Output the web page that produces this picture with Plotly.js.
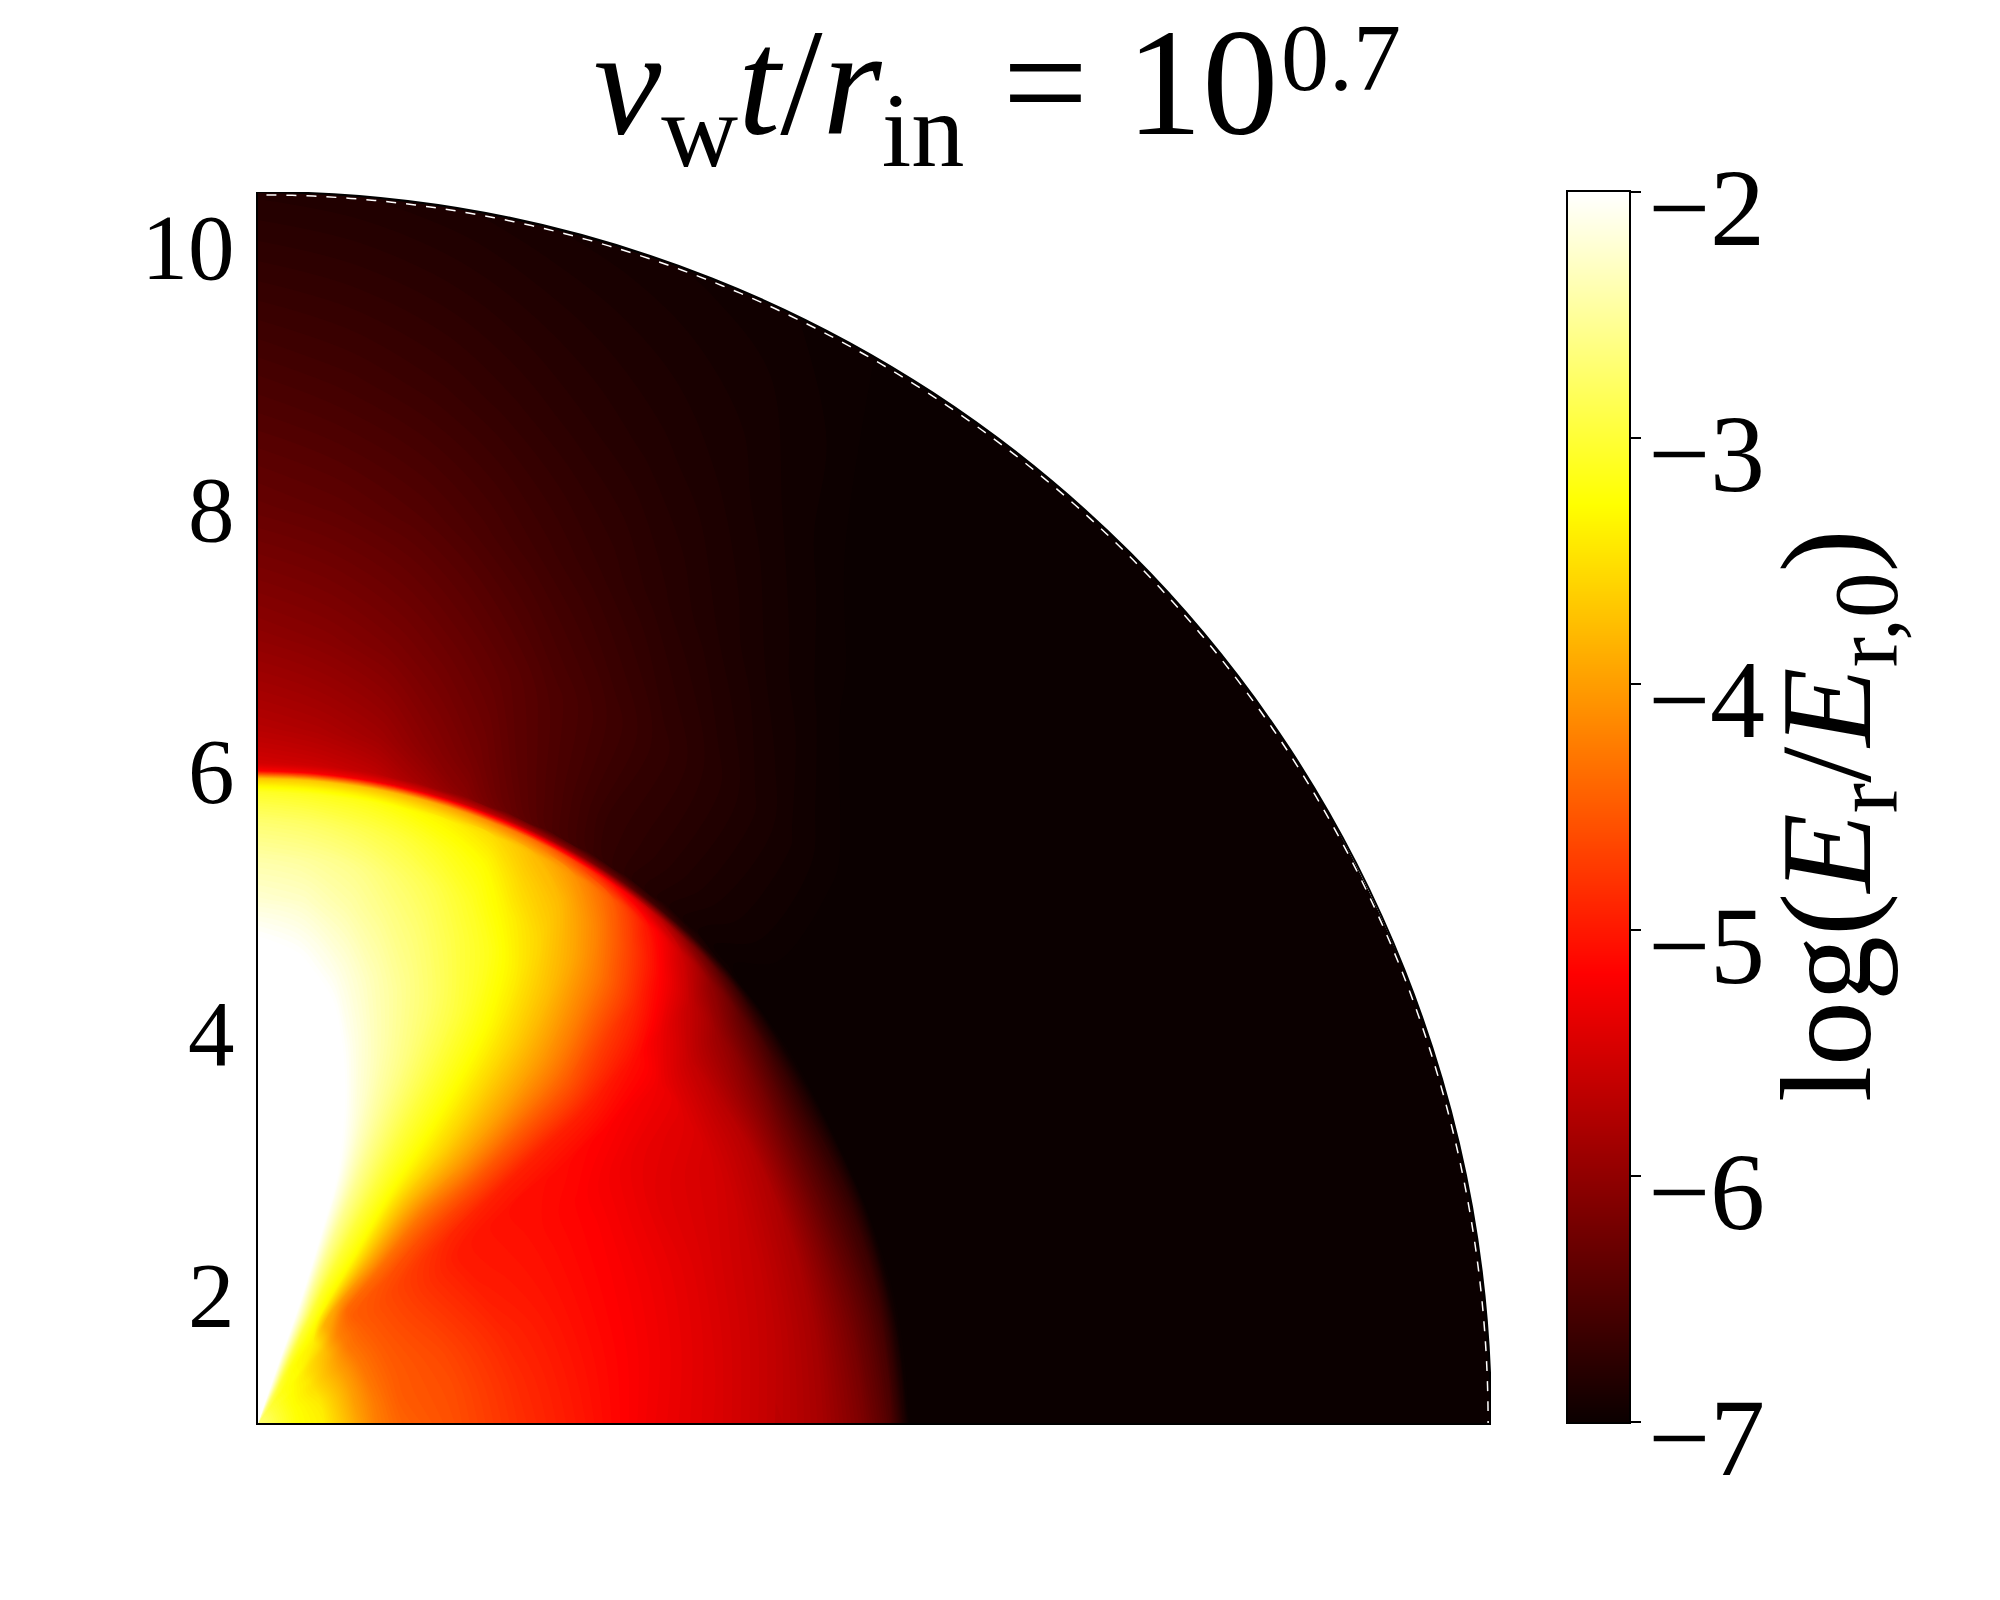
<!DOCTYPE html>
<html><head><meta charset="utf-8">
<script src="https://cdn.plot.ly/plotly-3.0.1.min.js"></script>
<style>html,body{margin:0;padding:0;background:#fff}</style></head>
<body><div id="chart" style="width:2000px;height:1600px"></div>
<script>
// polar angle measured from the vertical axis (degrees)
const thetaDeg = [0,5,10,14,18,22,26,30,34,38,42,46,50,55,60,70,80,90];
// radius nodes
const radius = [1,1.15,1.3,1.5,1.75,1.9,2.1,2.5,3,3.5,4,4.5,5,5.3,5.6,5.82,5.92,5.98,6.04,6.3,7,8,9,10.4];
// log(E_r/E_r,0); one row per radius, one column per angle
const logEr = [
[-1.8,-1.8,-1.8,-1.8,-2.0,-2.2,-2.4,-2.5,-2.6,-2.7,-2.7,-2.7,-2.7,-2.7,-2.7,-2.7,-2.7,-2.7],
[-1.7,-1.7,-1.7,-1.8,-2.0,-2.3,-2.6,-2.8,-2.9,-3.0,-3.0,-3.0,-3.0,-3.0,-3.0,-3.0,-3.0,-3.0],
[-1.6,-1.6,-1.6,-1.7,-1.95,-2.3,-2.7,-3.0,-3.1,-3.2,-3.2,-3.2,-3.25,-3.25,-3.27,-3.27,-3.27,-3.27],
[-1.5,-1.5,-1.5,-1.6,-1.9,-2.4,-2.9,-3.2,-3.3,-3.3,-3.4,-3.45,-3.45,-3.5,-3.5,-3.45,-3.42,-3.4],
[-1.5,-1.5,-1.5,-1.5,-1.85,-2.4,-3.0,-3.25,-3.4,-3.55,-3.75,-3.85,-3.95,-4.0,-4.0,-4.0,-4.0,-3.95],
[-1.5,-1.5,-1.5,-1.6,-1.85,-2.4,-3.0,-3.3,-3.85,-4.0,-4.2,-4.25,-4.3,-4.3,-4.3,-4.3,-4.27,-4.25],
[-1.5,-1.5,-1.5,-1.6,-1.85,-2.5,-3.05,-3.35,-4.0,-4.4,-4.5,-4.5,-4.5,-4.5,-4.5,-4.5,-4.5,-4.45],
[-1.5,-1.5,-1.5,-1.6,-1.95,-2.55,-3.0,-3.3,-3.85,-4.35,-4.6,-4.7,-4.72,-4.72,-4.7,-4.65,-4.62,-4.6],
[-1.5,-1.5,-1.5,-1.7,-2.05,-2.55,-2.95,-3.3,-3.8,-4.3,-4.65,-4.9,-5.0,-5.0,-4.98,-4.92,-4.88,-4.85],
[-1.5,-1.5,-1.6,-1.9,-2.25,-2.6,-2.95,-3.25,-3.6,-4.05,-4.55,-4.95,-5.08,-5.08,-5.08,-5.08,-5.07,-5.05],
[-1.7,-1.7,-1.85,-2.15,-2.4,-2.65,-2.95,-3.25,-3.6,-4.0,-4.5,-4.95,-5.12,-5.18,-5.2,-5.23,-5.25,-5.28],
[-1.85,-1.95,-2.15,-2.35,-2.55,-2.75,-3.0,-3.3,-3.65,-4.05,-4.5,-4.95,-5.2,-5.33,-5.38,-5.4,-5.43,-5.45],
[-2.25,-2.3,-2.45,-2.6,-2.75,-2.95,-3.15,-3.45,-3.8,-4.25,-4.75,-5.1,-5.3,-5.42,-5.5,-5.6,-5.65,-5.68],
[-2.45,-2.5,-2.6,-2.75,-2.9,-3.1,-3.35,-3.6,-3.95,-4.4,-4.9,-5.35,-5.6,-5.7,-5.72,-5.82,-5.85,-5.85],
[-2.75,-2.8,-2.9,-3.0,-3.15,-3.3,-3.6,-3.8,-4.2,-4.7,-5.2,-5.65,-5.95,-6.15,-6.3,-6.35,-6.25,-6.15],
[-3.1,-3.15,-3.2,-3.3,-3.4,-3.55,-3.8,-4.1,-4.5,-5.05,-5.55,-6.05,-6.4,-6.65,-6.75,-6.7,-6.6,-6.5],
[-3.7,-3.7,-3.75,-3.85,-4.0,-4.2,-4.4,-4.75,-5.15,-5.6,-6.1,-6.5,-6.8,-6.95,-7.0,-7.0,-6.95,-6.85],
[-5.2,-5.25,-5.3,-5.4,-5.55,-5.7,-5.9,-6.1,-6.35,-6.6,-6.8,-6.95,-7.05,-7.05,-7.05,-7.05,-7.05,-7.05],
[-5.5,-5.55,-5.65,-5.85,-6.05,-6.3,-6.5,-6.65,-6.78,-6.87,-6.95,-7.0,-7.05,-7.05,-7.05,-7.05,-7.05,-7.05],
[-5.72,-5.78,-5.88,-6.05,-6.2,-6.4,-6.55,-6.7,-6.77,-6.85,-6.92,-6.97,-7.02,-7.05,-7.05,-7.05,-7.05,-7.05],
[-6.02,-6.08,-6.17,-6.27,-6.38,-6.5,-6.6,-6.7,-6.78,-6.86,-6.93,-6.99,-7.04,-7.05,-7.05,-7.05,-7.05,-7.05],
[-6.33,-6.38,-6.45,-6.53,-6.62,-6.7,-6.78,-6.85,-6.92,-6.98,-7.04,-7.05,-7.05,-7.05,-7.05,-7.05,-7.05,-7.05],
[-6.55,-6.6,-6.66,-6.72,-6.78,-6.83,-6.88,-6.94,-7.0,-7.05,-7.05,-7.05,-7.05,-7.05,-7.05,-7.05,-7.05,-7.05],
[-6.83,-6.85,-6.88,-6.91,-6.93,-6.95,-6.97,-7.0,-7.03,-7.05,-7.05,-7.05,-7.05,-7.05,-7.05,-7.05,-7.05,-7.05]
];
const radialTicks = [2,4,6,8,10];
const radialLabels = ['2','4','6','8','10'];
const cbarTicks = [-7,-6,-5,-4,-3,-2];
const cbarLabels = ['\u22127','\u22126','\u22125','\u22124','\u22123','\u22122'];
const cbarLevels = [-7,-6.9,-6.8,-6.7,-6.6,-6.5,-6.4,-6.3,-6.2,-6.1,-6,-5.9,-5.8,-5.7,-5.6,-5.5,-5.4,-5.3,-5.2,-5.175,-5.1,-5,-4.9,-4.8,-4.7,-4.6,-4.5,-4.4,-4.3,-4.2,-4.1,-4,-3.9,-3.8,-3.7,-3.6,-3.5,-3.4,-3.3,-3.27,-3.2,-3.1,-3,-2.9,-2.8,-2.7,-2.6,-2.5,-2.4,-2.3,-2.2,-2.1,-2];
const hot = [[0,'#0b0000'],[0.365,'#ff0000'],[0.746,'#ffff00'],[1,'#ffffff']];
const rIn = 1, rOut = 10.4;
const W = 2000, H = 1600;

// the polar axes start at r = rIn at the corner of the frame
const xGrid = radius.map(r => thetaDeg.map(t => (r - rIn) * Math.sin(t * Math.PI / 180)));
const yGrid = radius.map(r => thetaDeg.map(t => (r - rIn) * Math.cos(t * Math.PI / 180)));
const span = rOut - rIn;
const fontName = '"Liberation Serif", "DejaVu Serif", serif';
const hiddenCarpetAxis = {showgrid:false, minorgridcount:0, startline:false, endline:false,
  showticklabels:'none', showline:false, ticks:'', title:{text:''}};

const traces = [
  {type:'carpet', carpet:'polar', a:thetaDeg, b:radius, x:xGrid, y:yGrid,
   aaxis:hiddenCarpetAxis, baxis:hiddenCarpetAxis, xaxis:'x', yaxis:'y', hoverinfo:'skip'},
  {type:'contourcarpet', carpet:'polar', a:thetaDeg, b:radius, z:logEr,
   xaxis:'x', yaxis:'y', colorscale:hot, zmin:-7, zmax:-2, showscale:false,
   autocontour:false, contours:{start:-7, end:-2, size:0.03, coloring:'fill', showlines:false},
   line:{width:0}},
  {type:'heatmap', x:[0,1], y:cbarLevels, z:cbarLevels.map(v => [v,v]), xaxis:'x2', yaxis:'y2',
   colorscale:hot, zmin:-7, zmax:-2, showscale:false, zsmooth:'best'}
];

const layout = {
  width:W, height:H, margin:{l:0,r:0,t:0,b:0}, paper_bgcolor:'#fff', plot_bgcolor:'#fff',
  showlegend:false, font:{family:fontName, color:'#000', size:92},
  title:{text:'<i>v</i><sub>w</sub><i>t</i>/<i>r</i><sub>in</sub> = 10',
    font:{family:fontName, size:152, color:'#000'}, xref:'paper', yref:'paper',
    x:936/W, xanchor:'center', y:1-81/H, yanchor:'middle'},
  annotations:[
    {text:'0.7', xref:'paper', yref:'paper', x:1341/W, y:1-57/H, xanchor:'center', yanchor:'middle',
     showarrow:false, font:{family:fontName, size:96, color:'#000'}},
    {text:'log(<i>E</i><sub>r</sub>/<i>E</i><sub>r,0</sub>)', xref:'paper', yref:'paper', x:1835/W, y:1-816/H,
     xanchor:'center', yanchor:'middle', textangle:-90, showarrow:false,
     font:{family:fontName, size:130, color:'#000'}}
  ],
  xaxis:{domain:[258/W,1491/W], range:[0,span], showticklabels:false, ticks:'', showgrid:false,
    zeroline:false, showline:true, linecolor:'#000', linewidth:2},
  yaxis:{domain:[1-1423/H,1-192/H], range:[0,span], tickmode:'array',
    tickvals:radialTicks.map(r => r - rIn), ticktext:radialLabels, ticks:'', showgrid:false,
    zeroline:false, showline:true, linecolor:'#000', linewidth:2,
    tickfont:{family:fontName, size:93, color:'#000'}, ticklabelshift:2, ticklabelstandoff:3},
  xaxis2:{domain:[1568/W,1629/W], range:[0,1], anchor:'y2', showticklabels:false, ticks:'',
    showgrid:false, zeroline:false, showline:true, mirror:true, linecolor:'#000', linewidth:2},
  yaxis2:{domain:[1-1422/H,1-192/H], range:[-7,-2], anchor:'x2', side:'right', tickmode:'array',
    tickvals:cbarTicks, ticktext:cbarLabels, ticks:'outside', ticklen:10, tickwidth:1.5, tickcolor:'#000',
    showgrid:false, zeroline:false, showline:true, mirror:true, linecolor:'#000', linewidth:2,
    tickfont:{family:fontName, size:110, color:'#000'}, ticklabelshift:14, ticklabelstandoff:-15},
  shapes:[
    {type:'circle', xref:'x', yref:'y', x0:-span, x1:span, y0:-span, y1:span, line:{color:'#000', width:2}, layer:'above'},
    {type:'circle', xref:'x', yref:'y', x0:-span+0.022, x1:span-0.022, y0:-span+0.022, y1:span-0.022,
     line:{color:'#fff', width:1.5, dash:'10px,10px'}, layer:'above'}
  ]
};
Plotly.newPlot('chart', traces, layout, {displayModeBar:false, responsive:false});
</script></body></html>
